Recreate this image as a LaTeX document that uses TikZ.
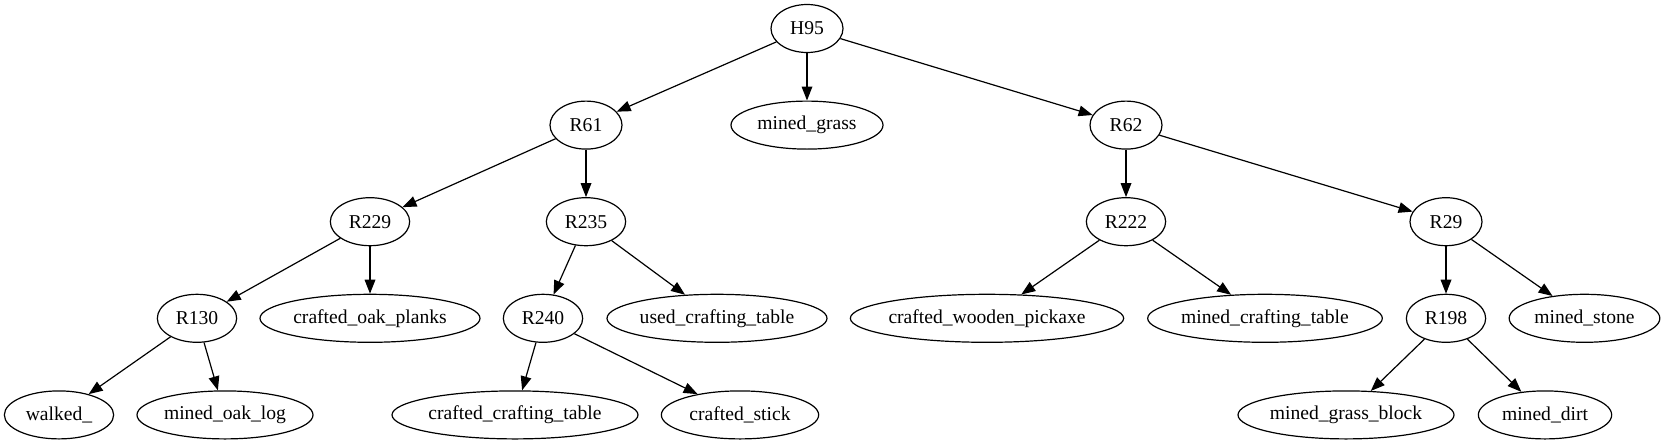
\documentclass[tikz,border=0pt]{standalone}
\usepackage{fontspec}
\setmainfont{Liberation Serif}
\usetikzlibrary{arrows.meta,shapes.geometric}
\begin{document}
\begin{tikzpicture}[x=0.75pt,y=-0.75pt,
  gnode/.style={draw,ellipse,line width=0.9pt,inner sep=0pt,minimum height=36pt,font=\fontsize{14.7}{17}\selectfont},
  gedge/.style={draw,line width=0.9pt,-{Triangle[length=10.5pt,width=8pt]}}]
\useasboundingbox (0,0) rectangle (1666,443);
\def\ya{28.5}\def\yb{125.1}\def\yc{221.7}\def\yd{318.3}\def\ye{414.9}
\node[gnode,minimum width=54pt] (H95) at (807,\ya) {\makebox[0pt]{H95}};
\node[gnode,minimum width=54pt] (R61) at (586,\yb) {\makebox[0pt]{R61}};
\node[gnode,minimum width=114pt] (mg) at (807,\yb) {\makebox[0pt]{mined\_grass}};
\node[gnode,minimum width=54pt] (R62) at (1126,\yb) {\makebox[0pt]{R62}};
\node[gnode,minimum width=59.5pt] (R229) at (370,\yc) {\makebox[0pt]{R229}};
\node[gnode,minimum width=59.5pt] (R235) at (586,\yc) {\makebox[0pt]{R235}};
\node[gnode,minimum width=59.5pt] (R222) at (1126,\yc) {\makebox[0pt]{R222}};
\node[gnode,minimum width=54pt] (R29) at (1446,\yc) {\makebox[0pt]{R29}};
\node[gnode,minimum width=59.5pt] (R130) at (197,\yd) {\makebox[0pt]{R130}};
\node[gnode,minimum width=165pt] (cop) at (370,\yd) {\makebox[0pt]{crafted\_oak\_planks}};
\node[gnode,minimum width=59.5pt] (R240) at (543,\yd) {\makebox[0pt]{R240}};
\node[gnode,minimum width=165pt] (uct) at (717,\yd) {\makebox[0pt]{used\_crafting\_table}};
\node[gnode,minimum width=205pt] (cwp) at (987,\yd) {\makebox[0pt]{crafted\_wooden\_pickaxe}};
\node[gnode,minimum width=176pt] (mct) at (1265,\yd) {\makebox[0pt]{mined\_crafting\_table}};
\node[gnode,minimum width=59.5pt] (R198) at (1446,\yd) {\makebox[0pt]{R198}};
\node[gnode,minimum width=113pt] (ms) at (1584.5,\yd) {\makebox[0pt]{mined\_stone}};
\node[gnode,minimum width=82pt] (wk) at (59,\ye) {\makebox[0pt]{walked\_}};
\node[gnode,minimum width=132pt] (mol) at (225,\ye) {\makebox[0pt]{mined\_oak\_log}};
\node[gnode,minimum width=184.5pt] (cct) at (515,\ye) {\makebox[0pt]{crafted\_crafting\_table}};
\node[gnode,minimum width=118pt] (cs) at (740,\ye) {\makebox[0pt]{crafted\_stick}};
\node[gnode,minimum width=162pt] (mgb) at (1346,\ye) {\makebox[0pt]{mined\_grass\_block}};
\node[gnode,minimum width=100pt] (md) at (1545,\ye) {\makebox[0pt]{mined\_dirt}};
\path[gedge] (H95) -- (R61);
\path[gedge] (H95) -- (mg);
\path[gedge] (H95) -- (R62);
\path[gedge] (R61) -- (R229);
\path[gedge] (R61) -- (R235);
\path[gedge] (R62) -- (R222);
\path[gedge] (R62) -- (R29);
\path[gedge] (R229) -- (R130);
\path[gedge] (R229) -- (cop);
\path[gedge] (R235) -- (R240);
\path[gedge] (R235) -- (uct);
\path[gedge] (R222) -- (cwp);
\path[gedge] (R222) -- (mct);
\path[gedge] (R29) -- (R198);
\path[gedge] (R29) -- (ms);
\path[gedge] (R130) -- (wk);
\path[gedge] (R130) -- (mol);
\path[gedge] (R240) -- (cct);
\path[gedge] (R240) -- (cs);
\path[gedge] (R198) -- (mgb);
\path[gedge] (R198) -- (md);
\end{tikzpicture}
\end{document}
